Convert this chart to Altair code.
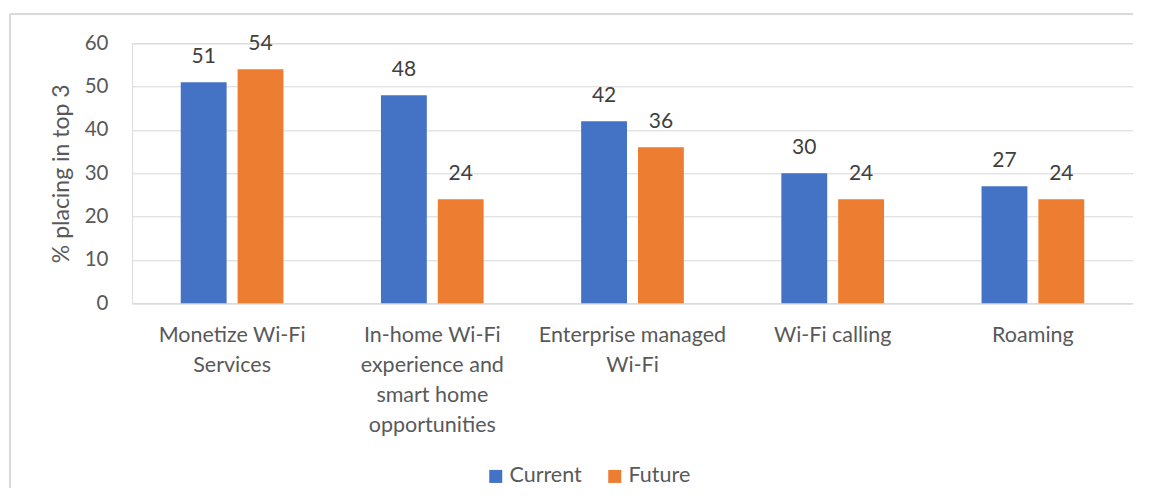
import altair as alt
import pandas as pd

categories = [
    "Monetize Wi-Fi Services",
    "In-home Wi-Fi experience and smart home opportunities",
    "Enterprise managed Wi-Fi",
    "Wi-Fi calling",
    "Roaming",
]
label_lines = [
    ["Monetize Wi-Fi", "Services"],
    ["In-home Wi-Fi", "experience and", "smart home", "opportunities"],
    ["Enterprise managed", "Wi-Fi"],
    ["Wi-Fi calling"],
    ["Roaming"],
]
series = ["Current", "Future"]
current = [51, 48, 42, 30, 27]
future = [54, 24, 36, 24, 24]
colors = ["#4472C4", "#ED7D31"]
y_ticks = [0, 10, 20, 30, 40, 50, 60]

rows = []
for c, a, b in zip(categories, current, future):
    rows.append({"category": c, "series": "Current", "value": a})
    rows.append({"category": c, "series": "Future", "value": b})
df = pd.DataFrame(rows)

def js_list(lines):
    return "[" + ",".join("'" + l + "'" for l in lines) + "]"

label_expr = ""
for c, lines in zip(categories, label_lines):
    label_expr += f"datum.value == '{c}' ? {js_list(lines)} : "
label_expr += "datum.label"

FONT = "Lato"
W, H = 1001, 260

x_enc = alt.X(
    "category:N",
    sort=categories,
    scale=alt.Scale(paddingInner=0.487, paddingOuter=0.2435),
    axis=alt.Axis(
        title=None,
        labelAngle=0,
        labelExpr=label_expr,
        labelFontSize=21.5,
        labelFont=FONT,
        labelColor="#595959",
        labelLineHeight=30,
        labelPadding=21,
        ticks=False,
        domainColor="#D9D9D9",
        domainWidth=1,
        grid=False,
        labelLimit=300,
    ),
)
y_enc = alt.Y(
    "value:Q",
    scale=alt.Scale(domain=[0, 60], nice=False),
    axis=alt.Axis(
        title="% placing in top 3",
        values=y_ticks,
        labelFontSize=20.5,
        labelFont=FONT,
        labelColor="#595959",
        labelPadding=24,
        ticks=False,
        tickSize=0,
        domain=False,
        gridColor="#D9D9D9",
        gridWidth=1,
        titleFontSize=23,
        titleFont=FONT,
        titleColor="#595959",
        titleFontWeight="normal",
        titlePadding=11,
    ),
)
xoff = alt.XOffset("series:N", sort=series, scale=alt.Scale(paddingInner=0.193, paddingOuter=0))

bars = alt.Chart(df).mark_bar().encode(
    x=x_enc,
    y=y_enc,
    xOffset=xoff,
    color=alt.Color(
        "series:N",
        sort=series,
        scale=alt.Scale(domain=series, range=colors),
        legend=alt.Legend(
            title=None,
            orient="none",
            direction="horizontal",
            legendX=353,
            legendY=422,
            symbolType="square",
            symbolSize=169,
            symbolStrokeWidth=0,
            labelFontSize=21.5,
            labelFont=FONT,
            labelColor="#595959",
            labelOffset=3,
            columnPadding=22,
        ),
    ),
)

labels = alt.Chart(df).mark_text(
    dy=-19, baseline="alphabetic", fontSize=21, font=FONT, color="#404040"
).encode(
    x=alt.X("category:N", sort=categories),
    y=alt.Y("value:Q"),
    xOffset=alt.XOffset("series:N", sort=series),
    text=alt.Text("value:Q"),
)

border_top = alt.Chart(df).mark_rule(color="#D9D9D9", strokeWidth=1).encode(
    x=alt.value(-122), x2=alt.value(W + 20), y=alt.value(-29.3)
)
border_left = alt.Chart(df).mark_rule(color="#D9D9D9", strokeWidth=1).encode(
    x=alt.value(-122), y=alt.value(-29.3), y2=alt.value(H + 240)
)

chart = alt.layer(border_top, border_left, bars, labels).properties(
    width=W,
    height=H,
    autosize=alt.AutoSizeParams(type="none"),
    padding={"left": 124, "top": 35.3, "right": 0, "bottom": 185},
).configure_view(stroke=None).configure(font=FONT, background="white")

chart.save("out.html", embed_options={"renderer": "svg", "actions": False})
